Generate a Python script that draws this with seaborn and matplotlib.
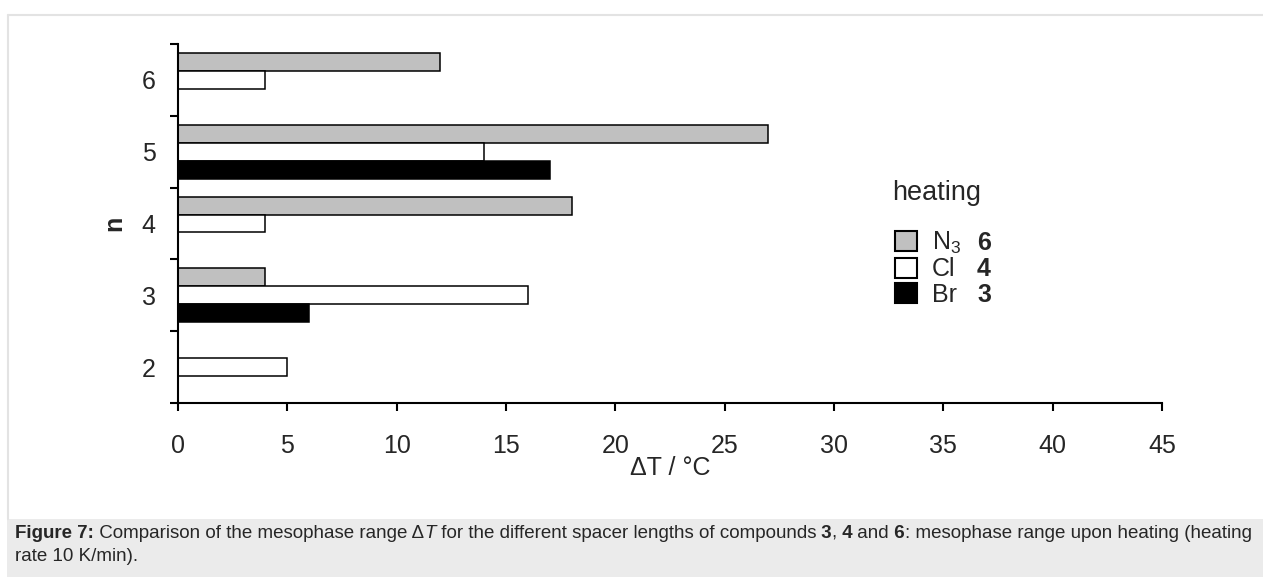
import numpy as np
import pandas as pd
import matplotlib
matplotlib.use("Agg")
import matplotlib.pyplot as plt
from matplotlib.patches import Patch, Rectangle
from matplotlib.lines import Line2D
import seaborn as sns

# ---- data ----
n_labels = ["6", "5", "4", "3", "2"]
series = ["N$_3$", "Cl", "Br"]
n3_vals = [12, 27, 18, 4, np.nan]
cl_vals = [4, 14, 4, 16, 5]
br_vals = [np.nan, 17, np.nan, 6, np.nan]
compounds = ["6", "4", "3"]
colors = ["#c0c0c0", "#ffffff", "#000000"]
x_ticks = [0, 5, 10, 15, 20, 25, 30, 35, 40, 45]

rows = []
for s, vals in zip(series, [n3_vals, cl_vals, br_vals]):
    for n, v in zip(n_labels, vals):
        if not np.isnan(v):
            rows.append({"n": n, "dT": v, "series": s})
df = pd.DataFrame(rows)

sns.set_theme(style="white")
plt.rcParams["font.family"] = ["Liberation Sans", "DejaVu Sans"]
plt.rcParams["mathtext.fontset"] = "custom"
plt.rcParams["mathtext.rm"] = "Liberation Sans"
plt.rcParams["mathtext.it"] = "Liberation Sans:italic"
plt.rcParams["mathtext.bf"] = "Liberation Sans:bold"

W, H = 1263, 577
fig = plt.figure(figsize=(W / 100, H / 100), dpi=100)
fig.patch.set_facecolor("white")

# frame / caption background
fig.patches.append(Rectangle((7 / W, 0), 1, (H - 519) / H, transform=fig.transFigure,
                             facecolor="#ebebeb", edgecolor="none", zorder=0))
fig.lines.append(Line2D([7.5 / W, 7.5 / W], [1 - 14.5 / H, (H - 519) / H],
                        transform=fig.transFigure, color="#e3e3e3", lw=1.5))
fig.lines.append(Line2D([7.5 / W, 1], [1 - 14.5 / H, 1 - 14.5 / H],
                        transform=fig.transFigure, color="#e3e3e3", lw=1.5))

ax = fig.add_axes([178 / W, 1 - 403 / H, 984 / W, 359 / H])
sns.barplot(data=df, y="n", x="dT", hue="series", order=n_labels, hue_order=series,
            palette=colors, orient="h", width=0.75, edgecolor="black", linewidth=1.1,
            saturation=1, errorbar=None, legend=False, ax=ax)

ax.set_ylim(4.5, -0.5)
ax.set_xlim(0, 45)
ax.set_yticks(np.arange(-0.5, 5.0, 1.0))
ax.set_yticklabels([])
ax.set_yticks(np.arange(len(n_labels)), labels=n_labels, minor=True)
ax.tick_params(axis="y", which="major", direction="out", length=6, width=1.5,
               color="black", left=True)
ax.tick_params(axis="y", which="minor", length=0, pad=16, labelsize=18, left=True)
ax.set_xticks(x_ticks)
ax.set_xticklabels([str(t) for t in x_ticks])
ax.tick_params(axis="x", direction="out", length=6, width=1.5, color="black",
               pad=16, labelsize=18, bottom=True)
for sp in ["top", "right"]:
    ax.spines[sp].set_visible(False)
for sp in ["left", "bottom"]:
    ax.spines[sp].set_color("black")
    ax.spines[sp].set_linewidth(1.5)
ax.set_xlabel("\u0394T / \u00b0C", fontsize=18, labelpad=-1)
ax.set_ylabel("n", fontsize=18, fontweight="bold", labelpad=11)
ax.grid(False)

# legend
handles = [Patch(facecolor=c, edgecolor="black", linewidth=1.5) for c in colors]
leg = ax.legend(handles, series, loc="upper left", bbox_to_anchor=(0.729, 0.482),
                frameon=False, fontsize=18, handlelength=0.85, handleheight=0.85,
                handletextpad=0.6, labelspacing=0.05, borderpad=0, borderaxespad=0)
ax.text(0.726, 0.585, "heating", transform=ax.transAxes, fontsize=19.5,
        ha="left", va="center")
fig.canvas.draw()
renderer = fig.canvas.get_renderer()
inv = ax.transAxes.inverted()
for txt, num in zip(leg.get_texts(), compounds):
    bb = txt.get_window_extent(renderer)
    y = inv.transform((0, (bb.y0 + bb.y1) / 2))[1]
    ax.text(0.812, y, num, transform=ax.transAxes, fontsize=18, fontweight="bold",
            ha="left", va="center")

# caption with mixed styles, placed segment by segment
cap_size = 13.5
segments = [
    ("Figure 7:", "bold", "normal"),
    (" Comparison of the mesophase range \u0394", "normal", "normal"),
    ("T", "normal", "italic"),
    (" for the different spacer lengths of compounds", "normal", "normal"),
    (" 3", "bold", "normal"),
    (",", "normal", "normal"),
    (" 4", "bold", "normal"),
    (" and", "normal", "normal"),
    (" 6", "bold", "normal"),
    (": mesophase range upon heating (heating", "normal", "normal"),
]
x = 15.0
y1 = 1 - 538 / H
for s, wt, st in segments:
    t = fig.text(x / W, y1, s, fontsize=cap_size, fontweight=wt, fontstyle=st,
                 ha="left", va="baseline")
    x += t.get_window_extent(renderer).width
fig.text(15 / W, 1 - 561 / H, "rate 10 K/min).", fontsize=cap_size, ha="left",
         va="baseline")

fig.savefig("out.png", dpi=100)
